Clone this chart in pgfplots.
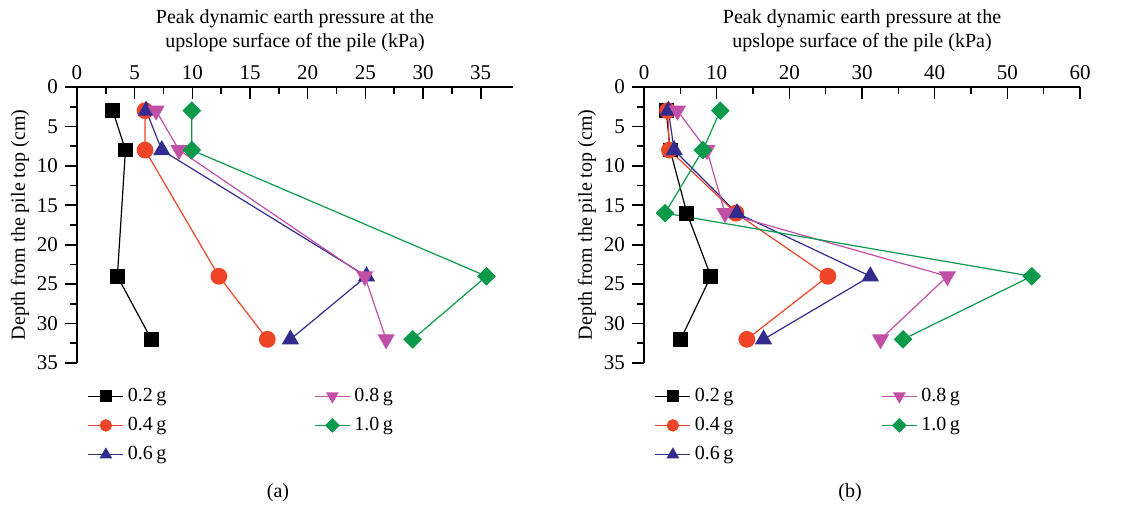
\documentclass[border=0pt]{standalone}
\usepackage{fontspec}
\setmainfont{Liberation Serif}
\usepackage{pgfplots}
\pgfplotsset{compat=1.18}
\definecolor{cA}{HTML}{000000}
\definecolor{cB}{HTML}{EE4427}
\definecolor{cC}{HTML}{322C8F}
\definecolor{cD}{HTML}{C24FA6}
\definecolor{cE}{HTML}{0A9A4A}

\pgfplotsset{
  pile/.style={
    scale only axis, width=218pt, height=138pt,
    font=\fontsize{10}{12}\selectfont,
    tick label style={font=\fontsize{10.5}{12}\selectfont},
    /pgf/number format/assume math mode=true,
    y dir=reverse, ymin=0, ymax=35, ytick={0,5,...,35}, minor y tick num=1,
    axis x line=top, axis y line=left,
    axis line style={-, line width=0.8pt},
    xtick align=inside, ytick align=outside,
    major tick length=6pt, minor tick length=3.5pt,
    every tick/.style={black, line width=0.8pt},
    xlabel={Peak dynamic earth pressure at the\\upslope surface of the pile (kPa)},
    xlabel style={align=center},
    ylabel={Depth from the pile top (cm)},
    ylabel shift=-3pt,
    clip=false,
    every axis plot/.append style={line width=0.6pt},
    legend style={draw=none, fill=none, at={(0.01,-0.06)}, anchor=north west,
      font=\fontsize{10}{12}\selectfont, row sep=2.5pt,
      /tikz/every even column/.append style={column sep=72pt}},
    legend columns=2, legend cell align=left,
    legend image code/.code={\draw[mark repeat=2,mark phase=2] plot coordinates {(0pt,0pt)(8.75pt,0pt)(17.5pt,0pt)};},
  },
  sA/.style={cA, mark=square*, mark size=3.4pt},
  sB/.style={cB, mark=*, mark size=3.9pt},
  sC/.style={cC, mark=triangle*, mark size=4.4pt},
  sD/.style={cD, mark=triangle*, mark size=4.4pt, mark options={rotate=180}},
  sE/.style={cE, mark=square*, mark size=3.0pt, mark options={rotate=45}},
}

\begin{document}
\begin{tikzpicture}
\path[use as bounding box] (0,0) rectangle (565pt,-253pt);

% (a)
\begin{axis}[pile, at={(38.5pt,-181.5pt)}, anchor=south west,
    xmin=0, xmax=37.8, xtick={0,5,...,35}, minor x tick num=1]
\addplot[sA, forget plot] coordinates {(3.1,3) (4.2,8) (3.5,24) (6.45,32)};
\addplot[sB, forget plot] coordinates {(5.9,3) (5.9,8) (12.3,24) (16.5,32)};
\addplot[sC, forget plot] coordinates {(6.0,3) (7.35,8) (25.1,24) (18.5,32)};
\addplot[sD, forget plot] coordinates {(6.85,3) (8.85,8) (24.95,24) (26.8,32)};
\addplot[sE, forget plot] coordinates {(9.95,3) (9.95,8) (35.5,24) (29.1,32)};
\addlegendimage{sA, mark size=2.6pt}\addlegendentry{0.2\,g}
\addlegendimage{sD, mark size=3.1pt}\addlegendentry{0.8\,g}
\addlegendimage{sB, mark size=2.8pt}\addlegendentry{0.4\,g}
\addlegendimage{sE, mark size=2.3pt}\addlegendentry{1.0\,g}
\addlegendimage{sC, mark size=3.1pt}\addlegendentry{0.6\,g}
\end{axis}

% (b)
\begin{axis}[pile, at={(322pt,-181.5pt)}, anchor=south west,
    xmin=0, xmax=60, xtick={0,10,...,60}, minor x tick num=1]
\addplot[sA, forget plot] coordinates {(3.05,3) (3.6,8) (5.9,16) (9.2,24) (5.05,32)};
\addplot[sB, forget plot] coordinates {(3.25,3) (3.5,8) (12.65,16) (25.3,24) (14.15,32)};
\addplot[sC, forget plot] coordinates {(3.35,3) (4.15,8) (12.8,16) (31.15,24) (16.45,32)};
\addplot[sD, forget plot] coordinates {(4.6,3) (8.65,8) (11.15,16) (41.75,24) (32.55,32)};
\addplot[sE, forget plot] coordinates {(10.5,3) (8.1,8) (2.9,16) (53.35,24) (35.65,32)};
\addlegendimage{sA, mark size=2.6pt}\addlegendentry{0.2\,g}
\addlegendimage{sD, mark size=3.1pt}\addlegendentry{0.8\,g}
\addlegendimage{sB, mark size=2.8pt}\addlegendentry{0.4\,g}
\addlegendimage{sE, mark size=2.3pt}\addlegendentry{1.0\,g}
\addlegendimage{sC, mark size=3.1pt}\addlegendentry{0.6\,g}
\end{axis}

\node[font=\fontsize{10}{12}\selectfont] at (139pt,-246.5pt) {(a)};
\node[font=\fontsize{10}{12}\selectfont] at (425pt,-246.5pt) {(b)};
\end{tikzpicture}
\end{document}
